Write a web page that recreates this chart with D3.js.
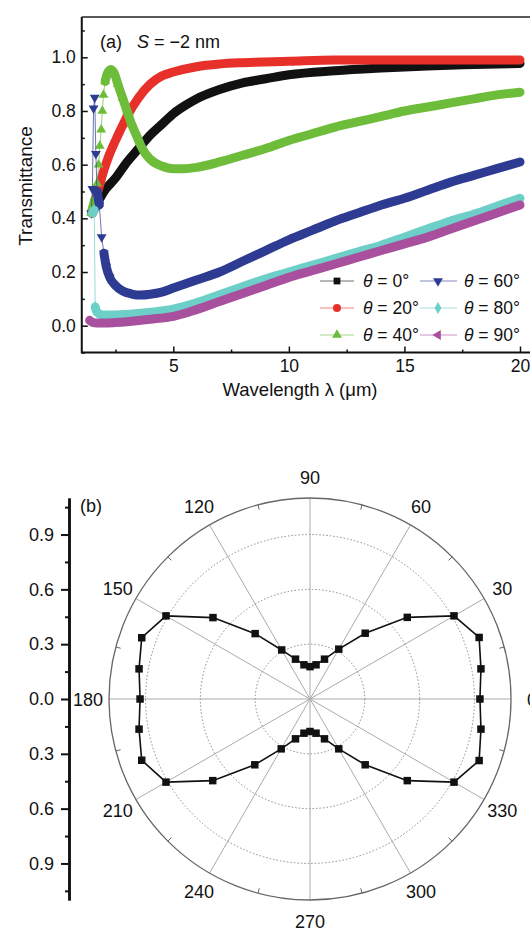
<!DOCTYPE html>
<html>
<head>
<meta charset="utf-8">
<script src="https://cdn.jsdelivr.net/npm/d3@7"></script>
<style>
body { margin: 0; background: #fff; }
text { font-family: "Liberation Sans", Arial, sans-serif; fill: #111; }
</style>
</head>
<body>
<svg id="fig" width="530" height="934"></svg>
<script>
// ---- panel (a): transmittance vs wavelength, S = -2 nm ----
var thetaNames = ["0°", "20°", "40°", "60°", "80°", "90°"];
var seriesColors = ["#111111", "#e8302a", "#6dbd3a", "#2e3b93", "#6dcfc8", "#a8509e"];

var theta0 = [[1.5,0.42],[1.8,0.47],[2.0,0.5],[2.5,0.55],[3.0,0.61],[3.5,0.66],[4.0,0.71],[4.5,0.75],[5,0.79],[5.5,0.82],[6,0.845],[7,0.88],[8,0.905],[9,0.92],[10,0.935],[12,0.95],[14,0.96],[16,0.968],[18,0.973],[20,0.977]];
var theta20 = [[1.5,0.42],[1.6,0.46],[1.8,0.52],[2.0,0.58],[2.2,0.63],[2.5,0.69],[2.8,0.745],[3.0,0.78],[3.5,0.85],[4.0,0.9],[4.5,0.93],[5,0.945],[6,0.965],[7,0.975],[8,0.98],[10,0.985],[12,0.99],[15,0.99],[20,0.99]];
var theta40 = [[1.45,0.42],[1.6,0.47],[1.7,0.53],[1.77,0.6],[1.82,0.67],[1.88,0.73],[1.93,0.8],[1.98,0.86],[2.05,0.91],[2.15,0.94],[2.3,0.955],[2.45,0.94],[2.6,0.9],[2.8,0.85],[3.0,0.8],[3.2,0.75],[3.4,0.71],[3.6,0.67],[3.8,0.64],[4.0,0.62],[4.5,0.595],[5,0.585],[5.5,0.585],[6,0.59],[7,0.61],[8,0.635],[9,0.66],[10,0.69],[11,0.715],[12,0.74],[13,0.76],[14,0.78],[15,0.8],[16,0.815],[17,0.83],[18,0.845],[19,0.86],[20,0.87]];
var theta60 = [[1.45,0.42],[1.5,0.51],[1.55,0.81],[1.6,0.85],[1.65,0.64],[1.7,0.5],[1.8,0.45],[1.9,0.33],[2.0,0.27],[2.1,0.22],[2.25,0.18],[2.5,0.15],[2.8,0.13],[3.2,0.118],[3.6,0.114],[4.0,0.117],[4.5,0.125],[5,0.14],[6,0.17],[7,0.2],[8,0.24],[9,0.28],[10,0.32],[11,0.355],[12,0.39],[13,0.42],[14,0.45],[15,0.475],[16,0.505],[17,0.535],[18,0.56],[19,0.585],[20,0.61]];
var theta80 = [[1.5,0.42],[1.58,0.43],[1.62,0.07],[1.7,0.05],[1.85,0.042],[2.0,0.04],[2.5,0.04],[3,0.042],[4,0.05],[5,0.062],[6,0.085],[7,0.115],[8,0.145],[9,0.175],[10,0.2],[11,0.225],[12,0.25],[13,0.275],[14,0.3],[15,0.33],[16,0.36],[17,0.39],[18,0.415],[19,0.445],[20,0.475]];
var theta90 = [[1.38,0.02],[1.5,0.013],[1.7,0.01],[2,0.01],[2.5,0.012],[3,0.015],[4,0.024],[5,0.035],[6,0.06],[7,0.09],[8,0.12],[9,0.15],[10,0.18],[11,0.205],[12,0.23],[13,0.255],[14,0.28],[15,0.305],[16,0.33],[17,0.36],[18,0.39],[19,0.42],[20,0.45]];

var xMajor = [5, 10, 15, 20];
var xMinor = [2.5, 7.5, 12.5, 17.5];
var yMajor = [0, 0.2, 0.4, 0.6, 0.8, 1.0];
var yMinor = [-0.1, 0.1, 0.3, 0.5, 0.7, 0.9, 1.1];

// ---- panel (b): polar plot ----
var polarAngles = [0,10,20,30,40,50,60,70,80,90,100,110,120,130,140,150,160,170,180,190,200,210,220,230,240,250,260,270,280,290,300,310,320,330,340,350];
var polarValues = [0.93,0.95,0.985,0.91,0.695,0.47,0.315,0.232,0.19,0.177,0.19,0.232,0.31,0.467,0.693,0.91,0.98,0.95,0.93,0.95,0.98,0.91,0.695,0.47,0.315,0.232,0.19,0.178,0.19,0.232,0.315,0.47,0.695,0.91,0.985,0.95];
var spokeAngles = [0,30,60,90,120,150,180,210,240,270,300,330];
var rTickAngles = [15,45,75,105,135,165,195,225,255,285,315,345];
var rGrid = [0.3, 0.6, 0.9];
var rAxisMajor = [-0.9,-0.6,-0.3,0,0.3,0.6,0.9];
var rAxisMinor = [-1.05,-0.75,-0.45,-0.15,0.15,0.45,0.75,1.05];

(function(){
    var svg = d3.select("#fig");
    var fmt1 = d3.format(".1f");

    var x = d3.scaleLinear().domain([5, 20]).range([173.3, 520]);
    var y = d3.scaleLinear().domain([0, 1]).range([325.7, 57.3]);
    var plotLeft = x(1.04), plotTop = y(1.15), plotBottom = y(-0.1), plotRight = 540;

    var ga = svg.append("g");

    // bottom axis
    var gx = ga.append("g").attr("transform", "translate(0," + plotBottom + ")");
    gx.call(d3.axisBottom(x).tickValues(xMajor).tickSize(-6).tickSizeOuter(0).tickPadding(7).tickFormat(d3.format("d")));
    gx.append("g").call(d3.axisBottom(x).tickValues(xMinor).tickSize(-3).tickSizeOuter(0).tickFormat(""));
    gx.selectAll(".domain").remove();
    gx.selectAll("line").attr("stroke", "#111").attr("stroke-width", 1.5);
    gx.selectAll("text").attr("font-size", 17.5).attr("fill", "#111");

    // left axis
    var gy = ga.append("g").attr("transform", "translate(" + plotLeft + ",0)");
    gy.call(d3.axisLeft(y).tickValues(yMajor).tickSize(-6).tickSizeOuter(0).tickPadding(6).tickFormat(fmt1));
    gy.append("g").call(d3.axisLeft(y).tickValues(yMinor).tickSize(-3).tickSizeOuter(0).tickFormat(""));
    gy.selectAll(".domain").remove();
    gy.selectAll("line").attr("stroke", "#111").attr("stroke-width", 1.5);
    gy.selectAll("text").attr("font-size", 17.5).attr("fill", "#111");

    // frame
    ga.append("path")
        .attr("d", "M" + plotLeft + "," + plotTop + "V" + plotBottom + "H" + plotRight)
        .attr("fill", "none").attr("stroke", "#111").attr("stroke-width", 2);
    ga.append("path")
        .attr("d", "M" + plotLeft + "," + plotTop + "H" + plotRight)
        .attr("fill", "none").attr("stroke", "#222").attr("stroke-width", 1.5);

    ga.append("text")
        .attr("transform", "translate(32," + 186 + ") rotate(-90)")
        .attr("text-anchor", "middle").attr("font-size", 19)
        .text("Transmittance");
    ga.append("text")
        .attr("x", 300).attr("y", 396)
        .attr("text-anchor", "middle").attr("font-size", 18.5)
        .text("Wavelength λ (μm)");

    var lab = ga.append("text").attr("y", 48).attr("font-size", 18);
    lab.append("tspan").attr("x", 100).text("(a)");
    lab.append("tspan").attr("x", 137).attr("font-style", "italic").text("S");
    lab.append("tspan").text(" = \u22122 nm");

    // markers
    var shapes = [
        {type: d3.symbolSquare, rot: 0, size: 46},
        {type: d3.symbolCircle, rot: 0, size: 50},
        {type: d3.symbolTriangle, rot: 0, size: 42},
        {type: d3.symbolTriangle, rot: 180, size: 42},
        {type: d3.symbolDiamond, rot: 0, size: 40},
        {type: d3.symbolTriangle, rot: -90, size: 42}
    ];
    var allSeries = [theta0, theta20, theta40, theta60, theta80, theta90];

    var thin = d3.line().x(function(d){ return x(d[0]); }).y(function(d){ return y(d[1]); });
    var band = d3.line().x(function(d){ return x(d[0]); }).y(function(d){ return y(d[1]); }).curve(d3.curveMonotoneX);

    function slope(a, b){
        return Math.abs((y(b[1]) - y(a[1])) / (x(b[0]) - x(a[0])));
    }
    // runs of gentle segments are drawn as a thick band of merged markers
    function gentleRuns(pts){
        var out = [], cur = [pts[0]];
        for (var i = 1; i < pts.length; i++) {
            if (slope(pts[i-1], pts[i]) < 6) cur.push(pts[i]);
            else { if (cur.length > 1) out.push(cur); cur = [pts[i]]; }
        }
        if (cur.length > 1) out.push(cur);
        return out;
    }
    // single markers only show where the curve is steep
    function loose(pts){
        return pts.filter(function(d, i){
            return (i > 0 && slope(pts[i-1], d) >= 2.5) || (i < pts.length - 1 && slope(d, pts[i+1]) >= 2.5);
        });
    }

    var gs = svg.append("g");
    allSeries.forEach(function(data, si){
        var c = seriesColors[si], sh = shapes[si];
        var g = gs.append("g");
        g.append("path").attr("d", thin(data))
            .attr("fill", "none").attr("stroke", c).attr("stroke-width", 1).attr("opacity", 0.7);
        gentleRuns(data).forEach(function(run){
            g.append("path").attr("d", band(run))
                .attr("fill", "none").attr("stroke", c).attr("stroke-width", 9)
                .attr("stroke-linecap", "round").attr("stroke-linejoin", "round");
        });
        g.selectAll("path.m").data(loose(data)).enter().append("path")
            .attr("class", "m")
            .attr("d", d3.symbol().type(sh.type).size(sh.size))
            .attr("transform", function(d){ return "translate(" + x(d[0]) + "," + y(d[1]) + ") rotate(" + sh.rot + ")"; })
            .attr("fill", c);
    });

    // legend
    var legRows = [281, 308, 335];
    var legCols = [{x1: 320, x2: 354, m: 337, t: 363}, {x1: 420, x2: 457, m: 438, t: 464}];
    thetaNames.forEach(function(name, i){
        var col = legCols[Math.floor(i / 3)], ry = legRows[i % 3], sh = shapes[i];
        var lg = svg.append("g");
        lg.append("line").attr("x1", col.x1).attr("x2", col.x2).attr("y1", ry).attr("y2", ry)
            .attr("stroke", seriesColors[i]).attr("stroke-width", 1).attr("opacity", 0.6);
        lg.append("path").attr("d", d3.symbol().type(sh.type).size(sh.size))
            .attr("transform", "translate(" + col.m + "," + ry + ") rotate(" + sh.rot + ")")
            .attr("fill", seriesColors[i]);
        var t = lg.append("text").attr("x", col.t).attr("y", ry + 6).attr("font-size", 17.5);
        t.append("tspan").attr("font-style", "italic").text("θ");
        t.append("tspan").text(" = " + name);
    });

    // ---- polar panel ----
    var cx = 310, cy = 699;
    var r = d3.scaleLinear().domain([0, 1.1]).range([0, 201]);
    var rad = function(a){ return a * Math.PI / 180; };
    var gp = svg.append("g").attr("transform", "translate(" + cx + "," + cy + ")");

    gp.selectAll("line.spoke").data(spokeAngles).enter().append("line")
        .attr("x1", 0).attr("y1", 0)
        .attr("x2", function(a){ return r(1.1) * Math.cos(rad(a)); })
        .attr("y2", function(a){ return -r(1.1) * Math.sin(rad(a)); })
        .attr("stroke", "#aaa").attr("stroke-width", 1);
    gp.selectAll("circle.grid").data(rGrid).enter().append("circle")
        .attr("r", function(v){ return r(v); })
        .attr("fill", "none").attr("stroke", "#8a8a8a").attr("stroke-width", 1)
        .attr("stroke-dasharray", "1.5,2");
    gp.append("circle").attr("r", r(1.1))
        .attr("fill", "none").attr("stroke", "#666").attr("stroke-width", 1.3);
    gp.selectAll("line.rt").data(rTickAngles).enter().append("line")
        .attr("x1", function(a){ return (r(1.1) - 5) * Math.cos(rad(a)); })
        .attr("y1", function(a){ return -(r(1.1) - 5) * Math.sin(rad(a)); })
        .attr("x2", function(a){ return r(1.1) * Math.cos(rad(a)); })
        .attr("y2", function(a){ return -r(1.1) * Math.sin(rad(a)); })
        .attr("stroke", "#666").attr("stroke-width", 1);
    gp.selectAll("text.ang").data(spokeAngles).enter().append("text")
        .attr("x", function(a){ return 222 * Math.cos(rad(a)); })
        .attr("y", function(a){ return -222 * Math.sin(rad(a)) + 6.5; })
        .attr("text-anchor", "middle").attr("font-size", 18)
        .text(function(a){ return a; });

    var pts = polarAngles.map(function(a, i){ return [a, polarValues[i]]; });
    var radial = d3.lineRadial()
        .angle(function(d){ return rad(90 - d[0]); })
        .radius(function(d){ return r(d[1]); })
        .curve(d3.curveLinearClosed);
    gp.append("path").attr("d", radial(pts))
        .attr("fill", "none").attr("stroke", "#111").attr("stroke-width", 1.6);
    gp.selectAll("path.pm").data(pts).enter().append("path")
        .attr("d", d3.symbol().type(d3.symbolSquare).size(56))
        .attr("transform", function(d){
            return "translate(" + r(d[1]) * Math.cos(rad(d[0])) + "," + (-r(d[1]) * Math.sin(rad(d[0]))) + ")";
        })
        .attr("fill", "#111");

    // radial value axis on the left
    var yr = d3.scaleLinear().domain([-1.1, 1.1]).range([cy + r(1.1), cy - r(1.1)]);
    var gr = svg.append("g").attr("transform", "translate(69,0)");
    gr.call(d3.axisLeft(yr).tickValues(rAxisMajor).tickSize(8).tickSizeOuter(0).tickPadding(7)
        .tickFormat(function(d){ return fmt1(Math.abs(d)); }));
    gr.append("g").call(d3.axisLeft(yr).tickValues(rAxisMinor).tickSize(4).tickSizeOuter(0).tickFormat(""));
    gr.selectAll(".domain").attr("stroke", "#111").attr("stroke-width", 2.5);
    gr.selectAll("line").attr("stroke", "#111").attr("stroke-width", 2);
    gr.selectAll("text").attr("font-size", 18).attr("fill", "#111");

    svg.append("text").attr("x", 80).attr("y", 512).attr("font-size", 18).text("(b)");
})();
</script>
</body>
</html>
